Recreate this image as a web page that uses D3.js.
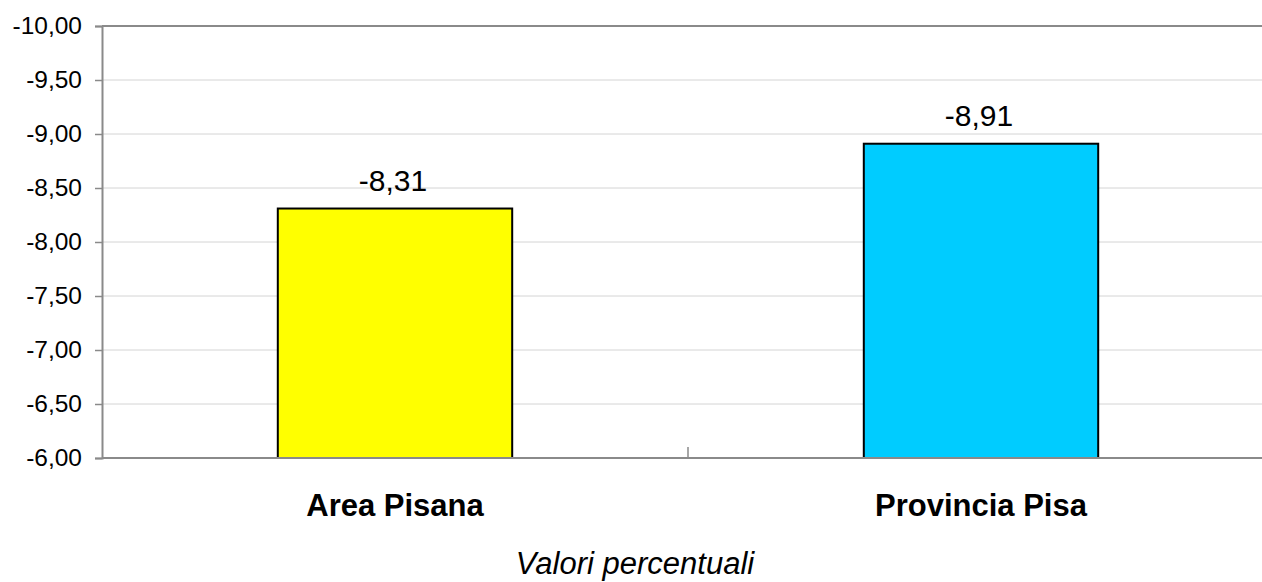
<!DOCTYPE html>
<html><head><meta charset="utf-8">
<script src="https://cdn.jsdelivr.net/npm/d3@7"></script>
<style>body{margin:0;background:#fff;}svg{display:block;}</style>
</head><body>
<svg id="c" width="1262" height="582"></svg>
<script>
const categories = ["Area Pisana", "Provincia Pisa"];
const values = [-8.31, -8.91];
const barColors = ["#FFFF00", "#00CCFF"];
const yTicks = [-6, -6.5, -7, -7.5, -8, -8.5, -9, -9.5, -10];
const axisTitle = "Valori percentuali";

(function () {
const svg = d3.select("#c");
const mLeft = 102, mRight = 1274, mTop = 26, mBottom = 458;
const fmt = v => d3.format(".2f")(v).replace("−","-").replace(".", ",");

const y = d3.scaleLinear().domain([-6, -10]).range([mBottom, mTop]);
const x = d3.scaleBand().domain(categories).range([mLeft, mRight]).paddingInner(0).paddingOuter(0);

// gridlines
svg.append("g").selectAll("line").data(yTicks.filter(t => t !== -6 && t !== -10)).join("line")
  .attr("x1", mLeft).attr("x2", 1262).attr("y1", d => y(d)).attr("y2", d => y(d))
  .attr("stroke", "#d4d4d4").attr("stroke-width", 1);
// top border
svg.append("line").attr("x1", mLeft).attr("x2", 1262).attr("y1", y(-10)).attr("y2", y(-10))
  .attr("stroke", "#8a8a8a").attr("stroke-width", 2);

// y axis
const yAxis = d3.axisLeft(y).tickValues(yTicks).tickSize(7).tickPadding(13).tickFormat(fmt);
const gy = svg.append("g").attr("transform", `translate(${mLeft},0)`).call(yAxis);
gy.select(".domain").attr("stroke", "#8a8a8a").attr("stroke-width", 2);
gy.selectAll(".tick line").attr("stroke", "#8a8a8a").attr("stroke-width", 1.5);
gy.selectAll(".tick text").attr("font-family", "Liberation Sans, Arial, sans-serif")
  .attr("font-size", 24.5).attr("fill", "#000");

// bars
svg.append("g").selectAll("rect").data(values).join("rect")
  .attr("x", (d, i) => x(categories[i]) + x.bandwidth() * 0.3)
  .attr("width", x.bandwidth() * 0.4)
  .attr("y", d => y(d))
  .attr("height", d => y(-6) - y(d))
  .attr("fill", (d, i) => barColors[i])
  .attr("stroke", "#000").attr("stroke-width", 2);

// x axis
svg.append("line").attr("x1", mLeft).attr("x2", 1262).attr("y1", mBottom).attr("y2", mBottom)
  .attr("stroke", "#8a8a8a").attr("stroke-width", 2);
svg.append("g").selectAll("line").data(categories.slice(1)).join("line")
  .attr("x1", d => x(d)).attr("x2", d => x(d)).attr("y1", mBottom - 11).attr("y2", mBottom)
  .attr("stroke", "#8a8a8a").attr("stroke-width", 1.5);

// value labels
svg.append("g").selectAll("text").data(values).join("text")
  .attr("x", (d, i) => x(categories[i]) + x.bandwidth() / 2 - 2)
  .attr("y", d => y(d) - 18)
  .attr("text-anchor", "middle")
  .attr("font-family", "Liberation Sans, Arial, sans-serif").attr("font-size", 30)
  .text(fmt);

// category labels
svg.append("g").selectAll("text").data(categories).join("text")
  .attr("x", d => x(d) + x.bandwidth() / 2)
  .attr("y", 516)
  .attr("text-anchor", "middle")
  .attr("font-family", "Liberation Sans, Arial, sans-serif").attr("font-size", 31).attr("font-weight", "bold")
  .text(d => d);

// axis title
svg.append("text").attr("x", 635).attr("y", 574).attr("text-anchor", "middle")
  .attr("font-family", "Liberation Sans, Arial, sans-serif").attr("font-size", 31).attr("font-style", "italic")
  .text(axisTitle);
})();
</script>
</body></html>
